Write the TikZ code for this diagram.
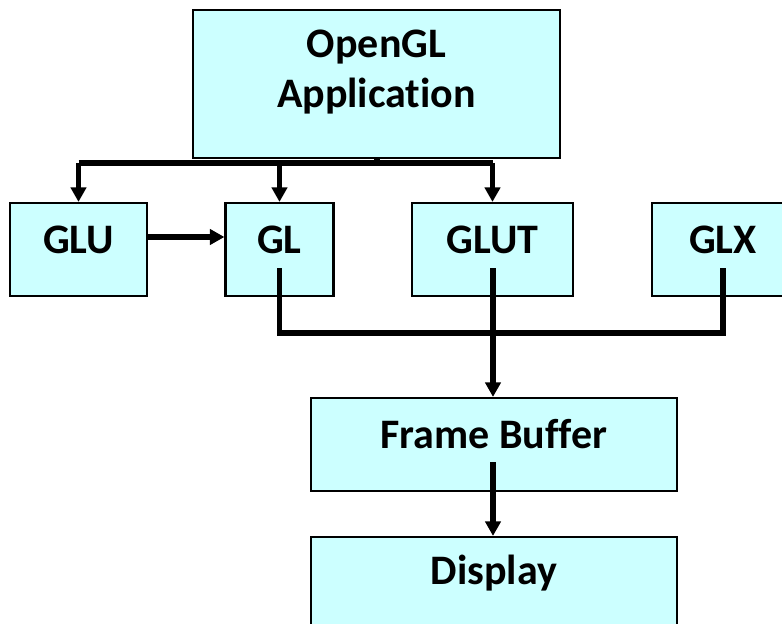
\documentclass[tikz,border=0pt]{standalone}
\usepackage{fontspec}
\setmainfont{Carlito}[Ligatures={NoCommon}]
\usetikzlibrary{arrows.meta,calc}
\definecolor{boxfill}{HTML}{CCFFFF}
\tikzset{
  box/.style={draw=black, line width=1.6pt, fill=boxfill, inner sep=0pt, anchor=center},
  lbl/.style={font=\fontsize{31.5}{38}\selectfont\bfseries, align=center, inner sep=0pt},
  conn/.style={line width=4pt, line cap=butt},
  arr/.style={conn, -{Triangle[width=11.5pt,length=11pt]}}
}
\begin{document}
\begin{tikzpicture}[x=0.75pt,y=-0.75pt]
\useasboundingbox (0,0) rectangle (782,624);
\clip (0,0) rectangle (782,624);
% boxes
\node[box, minimum width=367*0.75pt, minimum height=148*0.75pt] (app) at (376.5,84) {};
\node[box, minimum width=137*0.75pt, minimum height=93*0.75pt] (glu) at (78.5,249.5) {};
\node[box, minimum width=108*0.75pt, minimum height=93*0.75pt] (gl) at (279.5,249.5) {};
\node[box, minimum width=161*0.75pt, minimum height=93*0.75pt] (glut) at (492.5,249.5) {};
\node[box, minimum width=142*0.75pt, minimum height=93*0.75pt] (glx) at (723,249.5) {};
\node[box, minimum width=366*0.75pt, minimum height=93*0.75pt] (fb) at (494,444.5) {};
\node[box, minimum width=366*0.75pt, minimum height=93*0.75pt] (disp) at (494,583.5) {};
% labels
\node[lbl] (tapp) at (376.5,72) {OpenGL\\Application};
\node[lbl] (tglu) at (78.5,239.5) {GLU};
\node[lbl] (tgl) at (279.5,239.5) {GL};
\node[lbl] (tglut) at (492.5,239.5) {GLUT};
\node[lbl] (tglx) at (723,239.5) {GLX};
\node[lbl] (tfb) at (494,434) {Frame Buffer};
\node[lbl] (tdisp) at (494,573) {Display};
% helper coordinates
\coordinate (j) at (377,163);
\coordinate (ly) at (0,237);
\coordinate (by) at (0,333);
\coordinate (sy) at (0,268);
\coordinate (glxx) at (723,0);
\coordinate (busx) at (493,0);
% connectors from application
\draw[conn] (app.south -| j) -- (j);
\draw[conn] (glu.north |- j) -- (glut.north |- j);
\draw[arr] (glu.north |- j) -- (glu.north);
\draw[arr] (gl.north |- j) -- (gl.north);
\draw[arr] (glut.north |- j) -- (glut.north);
% GLU -> GL
\draw[arr] (glu.east |- ly) -- (gl.west |- ly);
% GL, GLUT, GLX to frame buffer
\draw[conn] (gl.center |- sy) -- (gl.center |- by) -- (glxx |- by) -- (glxx |- sy);
\draw[arr] (busx |- sy) -- (busx |- fb.north);
% frame buffer -> display
\draw[arr] (busx |- 0,462) -- (busx |- disp.north);
\end{tikzpicture}
\end{document}
